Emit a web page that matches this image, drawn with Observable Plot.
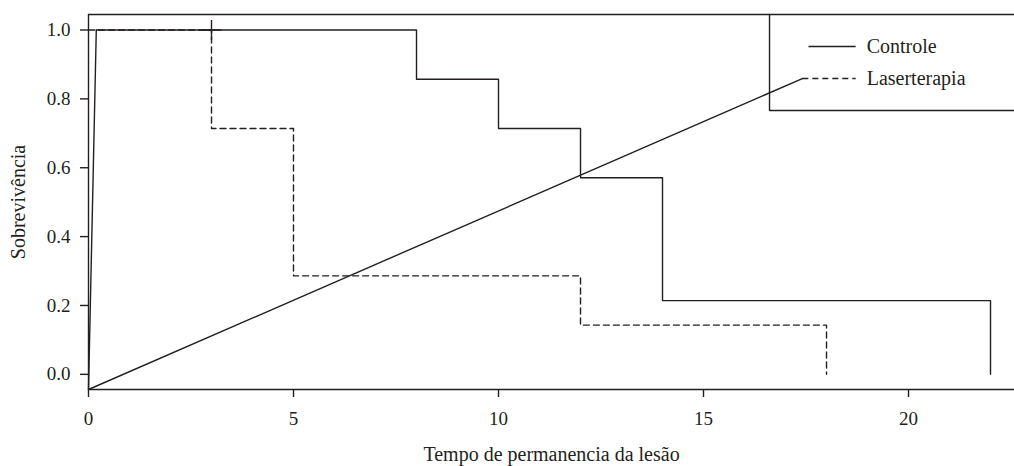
<!DOCTYPE html>
<html>
<head>
<meta charset="utf-8">
<script src="https://cdn.jsdelivr.net/npm/d3@7"></script>
<script src="https://cdn.jsdelivr.net/npm/@observablehq/plot@0.6"></script>
<style>
  html, body { margin: 0; padding: 0; background: #fff; }
  #chart svg { display: block; }
</style>
</head>
<body>
<div id="chart"></div>
<script>
// ---- data ----
const seriesNames = ["Controle", "Laserterapia"];
const controleTimes = [0.19, 8, 10, 12, 14, 22];
const controleSurv = [1.0, 0.857, 0.714, 0.571, 0.214, 0.0];
const laserTimes = [0, 3, 5, 12, 18];
const laserSurv = [1.0, 0.714, 0.286, 0.143, 0.0];
const censorTimes = [3];
const censorSurv = [1.0];
// stray lines present in the original figure
const rampX = [0, 0.19];
const rampY = [-0.044, 1.0];
const diagX = [0, 17.41];
const diagY = [-0.044, 0.859];
const boxX = [16.61, 16.61, 22.585];
const boxY = [1.045, 0.766, 0.766];
// legend sample positions (data units)
const legendX1 = [17.56, 17.41];
const legendX2 = [18.71, 18.71];
const legendY = [0.952, 0.859];
const legendTextX = 18.98;
// ticks
const xTicks = [0, 5, 10, 15, 20];
const yTicks = [0.0, 0.2, 0.4, 0.6, 0.8, 1.0];
const xDomain = [0, 22.585];
const yDomain = [-0.044, 1.045];
const xTitle = "Tempo de permanencia da lesão";
const yTitle = "Sobrevivência";

const ink = "#231f20";
const sw = 1.4;

const controle = controleTimes.map((t, i) => ({t, s: controleSurv[i]}));
const laser = laserTimes.map((t, i) => ({t, s: laserSurv[i]}));
const censor = censorTimes.map((t, i) => ({t, s: censorSurv[i]}));
const ramp = rampX.map((x, i) => ({x, y: rampY[i]}));
const diag = diagX.map((x, i) => ({x, y: diagY[i]}));
const box = boxX.map((x, i) => ({x, y: boxY[i]}));
const legend = seriesNames.map((name, i) => ({name, x1: legendX1[i], x2: legendX2[i], y: legendY[i], dash: i === 0 ? null : "6,4"}));

const chart = Plot.plot({
  width: 1014,
  height: 466,
  marginLeft: 88,
  marginRight: 0,
  marginTop: 14,
  marginBottom: 77,
  x: {domain: xDomain},
  y: {domain: yDomain},
  style: {fontFamily: "'Liberation Serif', 'DejaVu Serif', serif", fontSize: "19px", color: ink, background: "#fff", overflow: "visible"},
  marks: [
    Plot.axisX(xTicks, {tickSize: 8, tickPadding: 14, label: null, tickFormat: d => String(d), stroke: ink, strokeWidth: sw, fill: ink}),
    Plot.axisY(yTicks, {tickSize: 8, tickPadding: 10, label: null, tickFormat: d3.format(".1f"), stroke: ink, strokeWidth: sw, fill: ink}),
    // frame
    Plot.ruleY([yDomain[1]], {stroke: ink, strokeWidth: sw}),
    Plot.ruleY([yDomain[0]], {stroke: ink, strokeWidth: sw}),
    Plot.ruleX([xDomain[0]], {stroke: ink, strokeWidth: sw}),
    // legend box
    Plot.line(box, {x: "x", y: "y", stroke: ink, strokeWidth: sw}),
    // stray diagonal
    Plot.line(diag, {x: "x", y: "y", stroke: ink, strokeWidth: sw}),
    // curves
    Plot.line(ramp, {x: "x", y: "y", stroke: ink, strokeWidth: sw}),
    Plot.line(controle, {x: "t", y: "s", curve: "step-after", stroke: ink, strokeWidth: sw}),
    Plot.line(laser, {x: "t", y: "s", curve: "step-after", stroke: ink, strokeWidth: sw, strokeDasharray: "6,4"}),
    Plot.dot(censor, {x: "t", y: "s", symbol: "plus", r: 6.5, stroke: ink, strokeWidth: sw}),
    // legend
    Plot.link(legend.filter(d => !d.dash), {x1: "x1", x2: "x2", y1: "y", y2: "y", stroke: ink, strokeWidth: sw}),
    Plot.link(legend.filter(d => d.dash), {x1: "x1", x2: "x2", y1: "y", y2: "y", stroke: ink, strokeWidth: sw, strokeDasharray: "6,4"}),
    Plot.text(legend, {x: () => legendTextX, y: "y", text: "name", textAnchor: "start", fill: ink, fontSize: 20}),
    // axis titles
    Plot.text([xTitle], {frameAnchor: "bottom", dy: 71, textAnchor: "middle", text: d => d, fill: ink, fontSize: 20}),
    Plot.text([yTitle], {frameAnchor: "left", dx: -70, rotate: -90, textAnchor: "middle", lineAnchor: "middle", text: d => d, fill: ink, fontSize: 20})
  ]
});
document.getElementById("chart").appendChild(chart);
</script>
</body>
</html>
